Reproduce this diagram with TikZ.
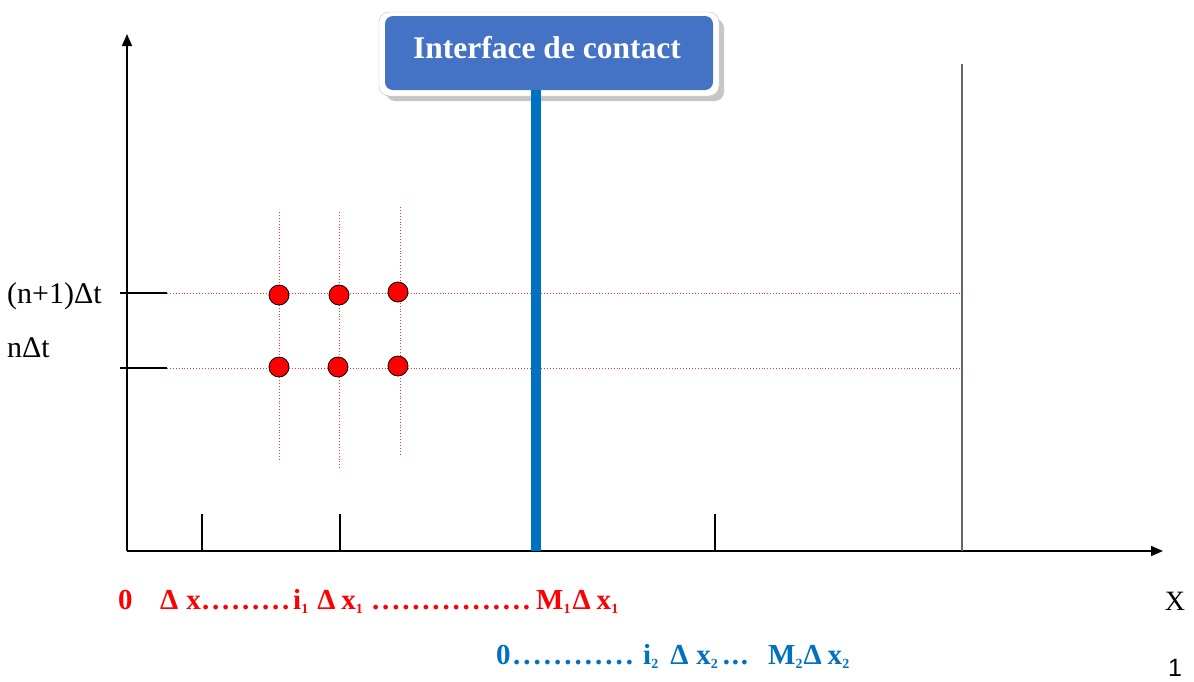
\documentclass[tikz,border=0pt]{standalone}
\usepackage{fontspec}
\setmainfont{Liberation Serif}
\newfontfamily\sansf{Liberation Sans}
\definecolor{redc}{RGB}{255,0,0}
\definecolor{bluec}{RGB}{0,112,192}
\definecolor{boxblue}{RGB}{68,114,196}
\newcommand\dotrow[2]{\foreach \k in {1,...,#1}{.\hspace{#2}}}
\newcommand\subs[1]{\raisebox{-4pt}{\fontsize{14}{15}\selectfont #1}}
\tikzset{
  axis/.style={line width=1.6pt,-{Triangle[length=12pt,width=10pt]}},
  tickl/.style={line width=1.3pt},
  gridl/.style={redc!80,line width=0.9pt,dotted},
  dotn/.style={circle,fill=redc,draw=black,line width=0.8pt,minimum size=20pt,inner sep=0pt},
  redt/.style={text=redc,font=\bfseries\fontsize{29}{32}\selectfont,inner sep=0pt,anchor=base west},
  bluet/.style={text=bluec,font=\bfseries\fontsize{29}{32}\selectfont,inner sep=0pt,anchor=base west},
  lab/.style={font=\fontsize{30}{34}\selectfont,inner sep=0pt,anchor=base west}
}
\usetikzlibrary{arrows.meta}
\begin{document}
\begin{tikzpicture}[x=1pt,y=-1pt]
\useasboundingbox (0,0) rectangle (1194,681);
% axes
\coordinate (O) at (127,551);
\coordinate (ytop) at (127,34);
\coordinate (xend) at (1163,551);
\draw[axis] (O) -- (ytop);
\draw[axis] (O) -- (xend);
% x ticks
\foreach \x/\n in {202/a,340/b,715/c}{
  \coordinate (t\n) at (\x,514);
  \draw[tickl] (t\n) -- (t\n |- O);
}
\coordinate (gtop) at (962,64);
\draw[gray!80!black,line width=1.6pt] (gtop) -- (gtop |- O);
% y ticks and grid
\coordinate (y1a) at (120,293); \coordinate (y1b) at (167,293); \coordinate (y1c) at (962,293);
\coordinate (y0a) at (120,368); \coordinate (y0b) at (167,368); \coordinate (y0c) at (962,368);
\draw[line width=2.6pt] (y1a) -- (y1b);
\draw[line width=2.6pt] (y0a) -- (y0b);
\draw[gridl] (y1b) -- (y1c);
\draw[gridl] (y0b) -- (y0c);
\coordinate (v1t) at (279,212); \coordinate (v1b) at (279,460);
\coordinate (v2t) at (339,212); \coordinate (v2b) at (339,468);
\coordinate (v3t) at (400,207); \coordinate (v3b) at (400,456);
\draw[gridl] (v1t) -- (v1b);
\draw[gridl] (v2t) -- (v2b);
\draw[gridl] (v3t) -- (v3b);
% dots
\node[dotn] (d11) at (279,295) {};
\node[dotn] (d12) at (339,295) {};
\node[dotn] (d13) at (398,292) {};
\node[dotn] (d01) at (279,367) {};
\node[dotn] (d02) at (338,367) {};
\node[dotn] (d03) at (398,366) {};
% interface box
\fill[gray!45,rounded corners=9pt] (386,19) rectangle (724,101);
\filldraw[fill=white,draw=gray!50,rounded corners=10pt] (379,12) rectangle (719,96);
\node[fill=boxblue,rounded corners=8pt,minimum width=328pt,minimum height=74pt,inner sep=0pt] (iface) at (549,53) {};
\node[text=white,font=\bfseries\fontsize{31.5}{34}\selectfont,inner sep=0pt,anchor=base] (ifacet) at (547,58) {Interface de contact};
\coordinate (blbot) at (536,551);
\draw[bluec,line width=10pt] (iface.south -| blbot) -- (blbot);
% left labels
\node[lab] (ln1) at (7,303) {(n+1)Δt};
\node[lab] (ln0) at (7,357) {nΔt};
% red labels
\node[redt] (r0) at (118,609) {0};
\node[redt] (r1) at (160,609) {Δ\hspace{8pt}x};
\node[redt] (r1d) at (202,609) {\dotrow{9}{2.75pt}};
\node[redt] (r2) at (293,609) {i\subs{1}\hspace{9pt}Δ\hspace{6pt}x\subs{1}};
\node[redt] (r2d) at (372,609) {\dotrow{16}{2.8pt}};
\node[redt] (r3) at (536,609) {M\subs{1}\hspace{2pt}Δ\hspace{6pt}x\subs{1}};
% blue labels
\node[bluet] (b0) at (496,664) {0};
\node[bluet] (b0d) at (513,664) {\dotrow{12}{3pt}};
\node[bluet] (b1) at (643,664) {i\subs{2}\hspace{12pt}Δ\hspace{8pt}x\subs{2}\hspace{5pt}\dotrow{3}{1.75pt}};
\node[bluet] (b2) at (768,664) {M\subs{2}\hspace{1pt}Δ\hspace{6pt}x\subs{2}};
% X and 1
\node[font=\fontsize{28}{32}\selectfont,inner sep=0pt] (X) at (1175,601) {X};
\node[font=\sansf\fontsize{25}{28}\selectfont,inner sep=0pt] (one) at (1175,668) {1};
\end{tikzpicture}
\end{document}
